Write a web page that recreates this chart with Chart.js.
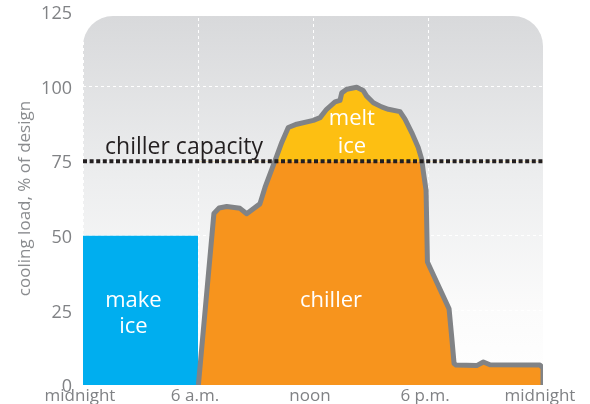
<!DOCTYPE html>
<html>
<head>
<meta charset="utf-8">
<script src="https://cdn.jsdelivr.net/npm/chart.js@4.4.0/dist/chart.umd.min.js"></script>
<style>
html,body{margin:0;padding:0;background:#ffffff;}
#wrap{width:590px;height:404px;position:relative;}
</style>
</head>
<body>
<div id="wrap"><canvas id="c"></canvas></div>
<script>
// ---- data ----
const xTickHours = [0, 6, 12, 18, 24];
const xTickLabels = ['midnight', '6 a.m.', 'noon', '6 p.m.', 'midnight'];
const yTickValues = [0, 25, 50, 75, 100, 125];

const makeIceHours = [0, 6];
const makeIceValues = [50, 50];

const capacityHours = [0, 24];
const capacityValues = [75, 75];

const loadHours = [6.02, 6.83, 7.10, 7.50, 8.19, 8.54, 9.23, 9.50, 10.02, 10.37, 10.71, 11.15, 12.02, 12.37, 12.71, 13.15, 13.41, 13.50, 13.76, 14.28, 14.62, 14.80, 15.15, 15.58, 15.93, 16.54, 16.80, 17.15, 17.49, 17.67, 17.75, 17.90, 17.97, 19.10, 19.25, 19.36, 19.46, 20.54, 20.89, 21.23, 23.84, 24.0, 24.0];
const loadValues = [0, 57.5, 59.3, 59.8, 59.2, 57.4, 60.7, 66.3, 75.2, 81.3, 86.3, 87.4, 88.7, 89.6, 92.4, 94.9, 95.4, 97.9, 99.1, 99.8, 98.7, 96.8, 94.6, 93.2, 92.4, 91.6, 89.1, 84.6, 79.6, 75.7, 71.8, 65.2, 41.2, 25.5, 15.2, 7.2, 6.7, 6.5, 7.7, 6.8, 6.7, 5.7, 0];

const chillerHours = [6.02, 6.83, 7.10, 7.50, 8.19, 8.54, 9.23, 9.50, 10.0, 17.68, 17.75, 17.90, 17.97, 19.10, 19.25, 19.36, 19.46, 20.54, 20.89, 21.23, 23.84, 24.0, 24.0];
const chillerValues = [0, 57.5, 59.3, 59.8, 59.2, 57.4, 60.7, 66.3, 75, 75, 71.8, 65.2, 41.2, 25.5, 15.2, 7.2, 6.7, 6.5, 7.7, 6.8, 6.7, 5.7, 0];

const toPts = (hs, vs) => hs.map((h, i) => ({x: h, y: vs[i]}));

// ---- plugins ----
const bgPlugin = {
  id: 'bgPanel',
  beforeDraw(chart) {
    const {ctx, chartArea: a} = chart;
    const top = a.top + 4, bottom = a.bottom, left = a.left, right = a.right, r = 30;
    const g = ctx.createLinearGradient(0, top, 0, bottom);
    g.addColorStop(0, '#d8d9db');
    g.addColorStop(0.45, '#edeeef');
    g.addColorStop(0.8, '#fbfbfb');
    g.addColorStop(1, '#ffffff');
    ctx.save();
    ctx.beginPath();
    ctx.moveTo(left, bottom);
    ctx.lineTo(left, top + r);
    ctx.arcTo(left, top, left + r, top, r);
    ctx.lineTo(right - r, top);
    ctx.arcTo(right, top, right, top + r, r);
    ctx.lineTo(right, bottom);
    ctx.closePath();
    ctx.fillStyle = g;
    ctx.fill();
    ctx.restore();
  }
};

const notesPlugin = {
  id: 'notes',
  afterDatasetsDraw(chart, args, opts) {
    const {ctx, scales: {x, y}} = chart;
    ctx.save();
    ctx.textBaseline = 'alphabetic';
    (opts.items || []).forEach(n => {
      ctx.font = n.font;
      ctx.fillStyle = n.color;
      ctx.textAlign = n.align;
      ctx.fillText(n.text, x.getPixelForValue(n.x), y.getPixelForValue(n.y));
    });
    ctx.restore();
  }
};

const labelFont = '22px "Open Sans"';
const capFont = '23px "Open Sans"';

new Chart(document.getElementById('c'), {
  type: 'line',
  data: {
    datasets: [
      {
        label: 'chiller capacity',
        data: toPts(capacityHours, capacityValues),
        borderColor: '#231f20',
        borderWidth: 4,
        borderDash: [4, 2.6],
        borderCapStyle: 'butt',
        pointRadius: 0,
        fill: false,
        order: 1
      },
      {
        label: 'cooling load',
        data: toPts(loadHours, loadValues),
        borderColor: '#818386',
        borderWidth: 5,
        borderJoinStyle: 'round',
        pointRadius: 0,
        tension: 0,
        fill: {target: {value: 75}, above: '#fdbf12', below: 'rgba(0,0,0,0)'},
        order: 2
      },
      {
        label: 'chiller',
        data: toPts(chillerHours, chillerValues),
        borderColor: 'rgba(0,0,0,0)',
        borderWidth: 0,
        backgroundColor: '#f7941d',
        pointRadius: 0,
        tension: 0,
        fill: 'origin',
        order: 3
      },
      {
        label: 'make ice',
        data: toPts(makeIceHours, makeIceValues),
        borderColor: 'rgba(0,0,0,0)',
        borderWidth: 0,
        backgroundColor: '#00aeef',
        pointRadius: 0,
        fill: 'origin',
        order: 4
      }
    ]
  },
  options: {
    responsive: true,
    maintainAspectRatio: false,
    animation: false,
    layout: {padding: {left: 0, right: 47, top: 12, bottom: 0}},
    plugins: {
      legend: {display: false},
      tooltip: {enabled: false},
      notes: {
        items: [
          {text: 'chiller capacity', x: 1.15, y: 77.5, align: 'left', color: '#231f20', font: capFont},
          {text: 'melt', x: 14.03, y: 87.2, align: 'center', color: '#ffffff', font: labelFont},
          {text: 'ice', x: 14.03, y: 77.8, align: 'center', color: '#ffffff', font: labelFont},
          {text: 'make', x: 2.63, y: 26.2, align: 'center', color: '#ffffff', font: labelFont},
          {text: 'ice', x: 2.63, y: 17.5, align: 'center', color: '#ffffff', font: labelFont},
          {text: 'chiller', x: 12.94, y: 26.2, align: 'center', color: '#ffffff', font: labelFont}
        ]
      }
    },
    scales: {
      x: {
        type: 'linear',
        min: 0,
        max: 24,
        afterBuildTicks: s => { s.ticks = xTickHours.map(v => ({value: v})); },
        afterFit: s => { s.height = 19; s.paddingLeft = 0; s.paddingRight = 0; s.paddingTop = 0; s.paddingBottom = 0; },
        ticks: {
          callback: (v, i) => xTickLabels[i],
          color: '#808285',
          font: {family: 'Open Sans', size: 17},
          padding: 1,
          maxRotation: 0,
          autoSkip: false,
          labelOffset: -3
        },
        grid: {color: '#ffffff', lineWidth: 1, drawTicks: false},
        border: {display: false, dash: [3, 3]}
      },
      y: {
        type: 'linear',
        min: 0,
        max: 125,
        afterBuildTicks: s => { s.ticks = yTickValues.map(v => ({value: v})); },
        afterFit: s => { s.width = 83; s.paddingLeft = 0; s.paddingRight = 0; s.paddingTop = 0; s.paddingBottom = 0; },
        ticks: {
          color: '#808285',
          font: {family: 'Open Sans', size: 18},
          padding: 11,
          labelOffset: 2
        },
        grid: {color: '#ffffff', lineWidth: 1, drawTicks: false},
        border: {display: false, dash: [3, 3]},
        title: {
          display: true,
          text: 'cooling load, % of design',
          color: '#8a8c8f',
          font: {family: 'Open Sans', size: 17},
          padding: {top: 15, bottom: 0}
        }
      }
    }
  },
  plugins: [bgPlugin, notesPlugin]
});
</script>
</body>
</html>
